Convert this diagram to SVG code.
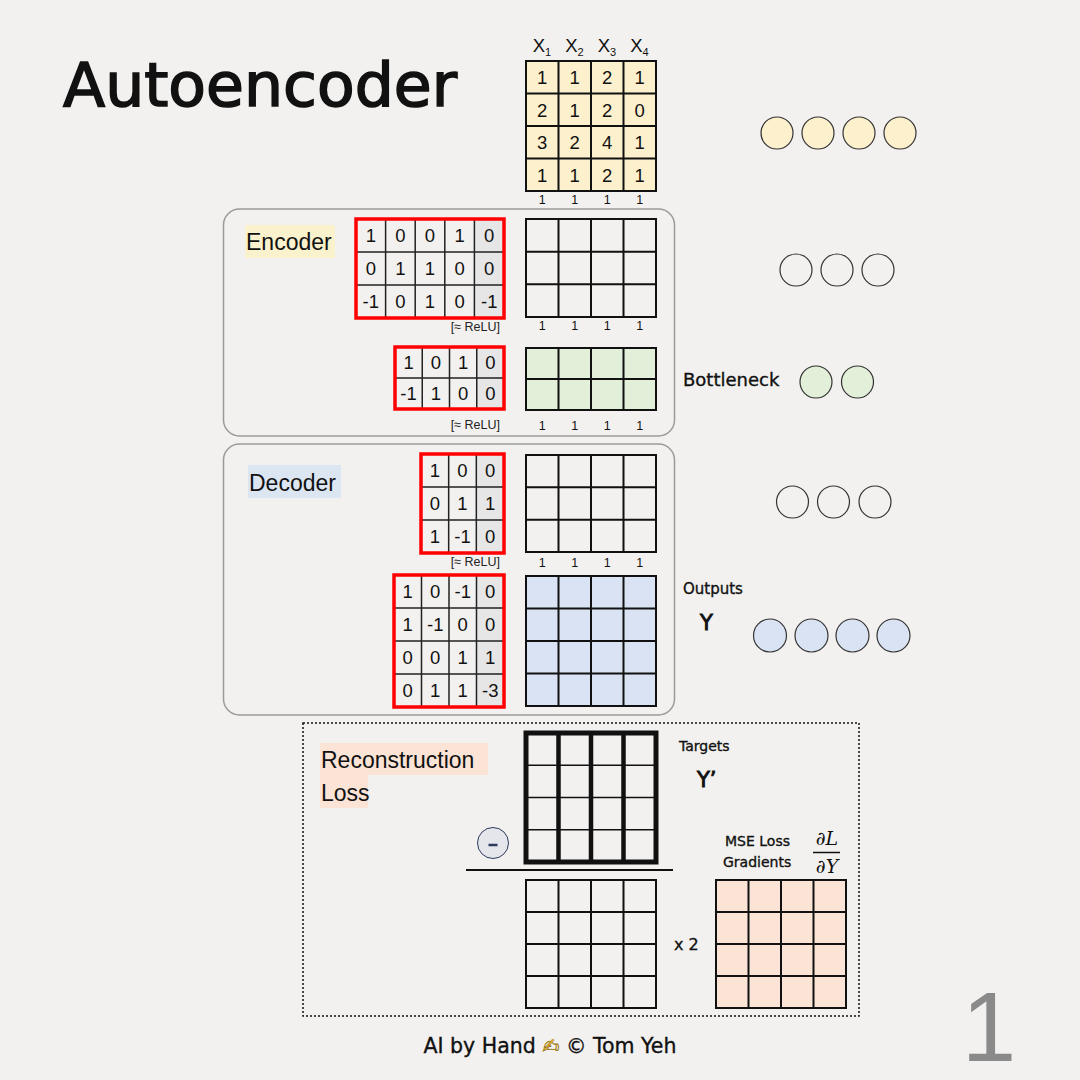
<svg xmlns="http://www.w3.org/2000/svg" width="1080" height="1080" viewBox="0 0 1080 1080">
<style>
.g{fill:none;stroke:#111;stroke-width:2}
.gl{stroke:#111;stroke-width:2}
.red{fill:none;stroke:#ff0000;stroke-width:3.5}
.thin{stroke:#222;stroke-width:1.5}
.num{font-family:"Liberation Sans",Arial,sans-serif;font-size:18.5px;fill:#111;text-anchor:middle}
.bias{font-family:"Liberation Sans",Arial,sans-serif;font-size:12.5px;fill:#111;text-anchor:middle}
.relu{font-family:"Liberation Sans",Arial,sans-serif;font-size:12.5px;fill:#222;text-anchor:end}
.lbl{font-family:"Liberation Sans",Arial,sans-serif;font-size:23px;fill:#111}
.hand{font-family:"DejaVu Sans",sans-serif;fill:#111;stroke:#111;stroke-width:0.35}
.box{fill:none;stroke:#9a9a9a;stroke-width:1.5}
.circ{stroke:#333;stroke-width:1.2}
</style>
<rect x="0" y="0" width="1080" height="1080" fill="#f3f1ef"/>

<g id="title">
<text x="63" y="106" class="hand" font-size="61" style="stroke-width:1.6" textLength="394" lengthAdjust="spacingAndGlyphs">Autoencoder</text>
</g>

<g id="input-X">
<rect x="526" y="61" width="130" height="130" fill="#fdf0cd"/>
<rect x="526" y="61" width="130" height="130" class="g"/>
<path class="gl" d="M558.5 61V191M591 61V191M623.5 61V191M526 93.5H656M526 126H656M526 158.5H656"/>
<g class="num">
<text x="542.25" y="84">1</text><text x="574.75" y="84">1</text><text x="607.25" y="84">2</text><text x="639.75" y="84">1</text>
<text x="542.25" y="116.5">2</text><text x="574.75" y="116.5">1</text><text x="607.25" y="116.5">2</text><text x="639.75" y="116.5">0</text>
<text x="542.25" y="149">3</text><text x="574.75" y="149">2</text><text x="607.25" y="149">4</text><text x="639.75" y="149">1</text>
<text x="542.25" y="181.5">1</text><text x="574.75" y="181.5">1</text><text x="607.25" y="181.5">2</text><text x="639.75" y="181.5">1</text>
</g>
<g class="num" font-size="17">
<text x="542" y="52">X<tspan font-size="11" dy="4">1</tspan></text>
<text x="574.5" y="52">X<tspan font-size="11" dy="4">2</tspan></text>
<text x="607" y="52">X<tspan font-size="11" dy="4">3</tspan></text>
<text x="639.5" y="52">X<tspan font-size="11" dy="4">4</tspan></text>
</g>
<g class="bias">
<text x="542.25" y="204">1</text><text x="574.75" y="204">1</text><text x="607.25" y="204">1</text><text x="639.75" y="204">1</text>
</g>
</g>

<g id="input-nodes">
<circle cx="777" cy="133" r="16" fill="#fdf0cd" class="circ"/>
<circle cx="818" cy="133" r="16" fill="#fdf0cd" class="circ"/>
<circle cx="859" cy="133" r="16" fill="#fdf0cd" class="circ"/>
<circle cx="900" cy="133" r="16" fill="#fdf0cd" class="circ"/>
</g>

<g id="encoder">
<rect x="223.5" y="209" width="451" height="227" rx="16" class="box"/>
<rect x="245" y="225" width="90" height="33" fill="#faf2cc"/>
<text x="246" y="250" class="lbl">Encoder</text>

<g id="enc-W1">
<rect x="474.4" y="219" width="29.6" height="99" fill="#e6e6e6"/>
<path class="thin" d="M385.6 219V318M415.2 219V318M444.8 219V318M474.4 219V318M356 252H504M356 285H504"/>
<rect x="356" y="219" width="148" height="99" class="red"/>
<g class="num">
<text x="370.8" y="242">1</text><text x="400.4" y="242">0</text><text x="430" y="242">0</text><text x="459.6" y="242">1</text><text x="489.2" y="242">0</text>
<text x="370.8" y="275">0</text><text x="400.4" y="275">1</text><text x="430" y="275">1</text><text x="459.6" y="275">0</text><text x="489.2" y="275">0</text>
<text x="370.8" y="308">-1</text><text x="400.4" y="308">0</text><text x="430" y="308">1</text><text x="459.6" y="308">0</text><text x="489.2" y="308">-1</text>
</g>
<text x="500" y="331" class="relu">[≈ ReLU]</text>
</g>

<g id="enc-H1">
<rect x="526" y="219" width="130" height="98" class="g"/>
<path class="gl" d="M558.5 219V317M591 219V317M623.5 219V317M526 251.7H656M526 284.3H656"/>
<g class="bias">
<text x="542.25" y="330">1</text><text x="574.75" y="330">1</text><text x="607.25" y="330">1</text><text x="639.75" y="330">1</text>
</g>
</g>

<g id="enc-W2">
<rect x="476.75" y="347" width="27.25" height="62" fill="#e6e6e6"/>
<path class="thin" d="M422.25 347V409M449.5 347V409M476.75 347V409M395 378H504"/>
<rect x="395" y="347" width="109" height="62" class="red"/>
<g class="num">
<text x="408.6" y="369">1</text><text x="435.9" y="369">0</text><text x="463.1" y="369">1</text><text x="490.4" y="369">0</text>
<text x="408.6" y="400">-1</text><text x="435.9" y="400">1</text><text x="463.1" y="400">0</text><text x="490.4" y="400">0</text>
</g>
<text x="500" y="429" class="relu">[≈ ReLU]</text>
</g>

<g id="bottleneck-H2">
<rect x="526" y="348" width="130" height="62" fill="#e2efd9"/>
<rect x="526" y="348" width="130" height="62" class="g"/>
<path class="gl" d="M558.5 348V410M591 348V410M623.5 348V410M526 379H656"/>
<g class="bias">
<text x="542.25" y="430">1</text><text x="574.75" y="430">1</text><text x="607.25" y="430">1</text><text x="639.75" y="430">1</text>
</g>
</g>
</g>

<g id="enc-hidden-nodes">
<circle cx="796" cy="270" r="16" fill="none" class="circ"/>
<circle cx="837" cy="270" r="16" fill="none" class="circ"/>
<circle cx="878" cy="270" r="16" fill="none" class="circ"/>
</g>

<g id="bottleneck-nodes">
<text x="683" y="386" class="hand" font-size="18">Bottleneck</text>
<circle cx="816" cy="382" r="16" fill="#e2efd9" class="circ"/>
<circle cx="857.5" cy="382" r="16" fill="#e2efd9" class="circ"/>
</g>

<g id="decoder">
<rect x="223.5" y="444" width="451" height="271" rx="16" class="box"/>
<rect x="248" y="465" width="93" height="33" fill="#dce6f2"/>
<text x="249" y="491" class="lbl">Decoder</text>

<g id="dec-W3">
<rect x="476.33" y="454" width="27.67" height="99" fill="#e6e6e6"/>
<path class="thin" d="M448.67 454V553M476.33 454V553M421 487H504M421 520H504"/>
<rect x="421" y="454" width="83" height="99" class="red"/>
<g class="num">
<text x="434.8" y="477">1</text><text x="462.5" y="477">0</text><text x="490.2" y="477">0</text>
<text x="434.8" y="510">0</text><text x="462.5" y="510">1</text><text x="490.2" y="510">1</text>
<text x="434.8" y="543">1</text><text x="462.5" y="543">-1</text><text x="490.2" y="543">0</text>
</g>
<text x="500" y="566" class="relu">[≈ ReLU]</text>
</g>

<g id="dec-H3">
<rect x="526" y="455" width="130" height="97" class="g"/>
<path class="gl" d="M558.5 455V552M591 455V552M623.5 455V552M526 487.3H656M526 519.7H656"/>
<g class="bias">
<text x="542.25" y="567">1</text><text x="574.75" y="567">1</text><text x="607.25" y="567">1</text><text x="639.75" y="567">1</text>
</g>
</g>

<g id="dec-W4">
<rect x="476.5" y="575" width="27.5" height="132" fill="#e6e6e6"/>
<path class="thin" d="M421.5 575V707M449 575V707M476.5 575V707M394 608H504M394 641H504M394 674H504"/>
<rect x="394" y="575" width="110" height="132" class="red"/>
<g class="num">
<text x="407.75" y="598">1</text><text x="435.25" y="598">0</text><text x="462.75" y="598">-1</text><text x="490.25" y="598">0</text>
<text x="407.75" y="631">1</text><text x="435.25" y="631">-1</text><text x="462.75" y="631">0</text><text x="490.25" y="631">0</text>
<text x="407.75" y="664">0</text><text x="435.25" y="664">0</text><text x="462.75" y="664">1</text><text x="490.25" y="664">1</text>
<text x="407.75" y="697">0</text><text x="435.25" y="697">1</text><text x="462.75" y="697">1</text><text x="490.25" y="697">-3</text>
</g>
</g>

<g id="output-Y">
<rect x="526" y="576" width="130" height="130" fill="#dae3f3"/>
<rect x="526" y="576" width="130" height="130" class="g"/>
<path class="gl" d="M558.5 576V706M591 576V706M623.5 576V706M526 608.5H656M526 641H656M526 673.5H656"/>
</g>
</g>

<g id="dec-hidden-nodes">
<circle cx="792.5" cy="502" r="16" fill="none" class="circ"/>
<circle cx="833.5" cy="502" r="16" fill="none" class="circ"/>
<circle cx="875" cy="502" r="16" fill="none" class="circ"/>
</g>

<g id="output-nodes">
<text x="683" y="594" class="hand" font-size="15">Outputs</text>
<text x="700" y="630" class="hand" font-size="21" style="stroke-width:0.9">Y</text>
<circle cx="770" cy="635.5" r="16.5" fill="#dae3f3" class="circ"/>
<circle cx="811.5" cy="635.5" r="16.5" fill="#dae3f3" class="circ"/>
<circle cx="852.5" cy="635.5" r="16.5" fill="#dae3f3" class="circ"/>
<circle cx="893.5" cy="635.5" r="16.5" fill="#dae3f3" class="circ"/>
</g>

<g id="loss">
<rect x="303" y="723" width="556" height="293" fill="none" stroke="#111" stroke-width="1.5" stroke-dasharray="2,2"/>
<rect x="320" y="743" width="168" height="32" fill="#fbe4d5"/>
<rect x="320" y="775" width="48" height="33" fill="#fbe4d5"/>
<text x="321" y="768" class="lbl">Reconstruction</text>
<text x="321" y="801" class="lbl">Loss</text>

<g id="targets">
<path stroke="#111" stroke-width="1.5" d="M526 765.25H656M526 797.5H656M526 829.75H656"/>
<path stroke="#111" stroke-width="4.5" d="M558.5 733V862M591 733V862M623.5 733V862"/>
<rect x="526" y="733" width="130" height="129" fill="none" stroke="#111" stroke-width="5"/>
<text x="679" y="751" class="hand" font-size="14">Targets</text>
<text x="697" y="787" class="hand" font-size="21" style="stroke-width:0.9">Y’</text>
</g>

<g id="minus">
<circle cx="493" cy="843" r="15.5" fill="#e4e6ec" stroke="#2c3a5e" stroke-width="1"/>
<path d="M488.5 845H497.5" stroke="#2c3a5e" stroke-width="2.5"/>
</g>
<path d="M466 870H673" stroke="#111" stroke-width="2"/>

<g id="difference">
<rect x="526" y="880" width="130" height="128" class="g"/>
<path class="gl" d="M558.5 880V1008M591 880V1008M623.5 880V1008M526 912H656M526 944H656M526 976H656"/>
</g>
<text x="674" y="950" class="hand" font-size="16">x 2</text>

<g id="gradients">
<text x="725" y="846" class="hand" font-size="14">MSE Loss</text>
<text x="723" y="867" class="hand" font-size="14">Gradients</text>
<text x="827" y="845" font-family="'DejaVu Serif',serif" font-style="italic" font-size="19" text-anchor="middle" fill="#111">∂L</text>
<path d="M813 852.5H840" stroke="#111" stroke-width="1.5"/>
<text x="827" y="873" font-family="'DejaVu Serif',serif" font-style="italic" font-size="19" text-anchor="middle" fill="#111">∂Y</text>
<rect x="716" y="880" width="130" height="128" fill="#fbe4d5"/>
<rect x="716" y="880" width="130" height="128" class="g"/>
<path class="gl" d="M748.5 880V1008M781 880V1008M813.5 880V1008M716 912H846M716 944H846M716 976H846"/>
</g>
</g>

<g id="footer">
<text x="550" y="1053" class="hand" font-size="20.5" text-anchor="middle">AI by Hand <tspan fill="#f0b429" stroke="#8a6a10" style="stroke-width:0.4">✍</tspan> © Tom Yeh</text>
<text x="989" y="1061" font-family="'Liberation Sans',Arial,sans-serif" font-size="98" fill="#8a8a8a" text-anchor="middle">1</text>
</g>
</svg>
